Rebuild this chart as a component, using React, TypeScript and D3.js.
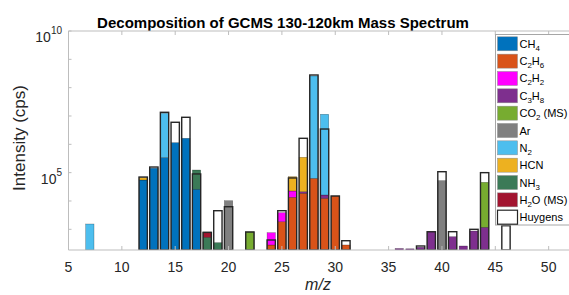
import * as d3 from "d3";

const WIDTH = 569;
const HEIGHT = 295;
const PLOT = { left: 68.5, right: 570, top: 31, bottom: 250 };
const FONT = "'Liberation Sans', Arial, sans-serif";

// m/z channels that carry a bar
const MZ = [7, 12, 13, 14, 15, 16, 17, 18, 19, 20, 22, 24, 25, 26, 27, 28, 29, 30, 31, 36, 37, 38, 39, 40, 41, 42, 43, 44, 46];

// per-species contributions (cps), aligned with MZ
const CH4 = [0, 5.5e4, 1.43e5, 3.4e5, 1.14e6, 1.63e6, 2.6e4, 0, 0, 0, 0, 0, 0, 0, 0, 0, 0, 0, 0, 0, 0, 0, 0, 0, 0, 0, 0, 0, 0];
const C2H6 = [0, 0, 0, 0, 0, 0, 0, 0, 0, 0, 0, 280, 1860, 1.35e4, 1.87e4, 6.3e4, 1.24e4, 1.5e4, 280, 0, 0, 0, 0, 0, 0, 0, 0, 0, 0];
const C2H2 = [0, 0, 0, 0, 0, 0, 0, 0, 0, 0, 0, 480, 2000, 9000, 0, 0, 0, 0, 0, 0, 0, 0, 0, 0, 0, 0, 0, 0, 0];
const C3H8 = [0, 0, 0, 0, 0, 0, 0, 0, 0, 0, 0, 0, 0, 0, 2600, 0, 3900, 0, 0, 210, 205, 232, 824, 0, 548, 258, 870, 1180, 0];
const CO2 = [0, 0, 0, 0, 0, 0, 0, 0, 0, 0, 824, 0, 0, 0, 0, 0, 0, 0, 0, 0, 0, 0, 0, 0, 0, 0, 0, 4.44e4, 0];
const AR = [0, 0, 0, 0, 0, 0, 0, 0, 0, 1.02e4, 0, 0, 0, 0, 0, 0, 0, 0, 0, 0, 0, 0, 0, 5.2e4, 0, 0, 0, 0, 0];
const N2 = [1540, 0, 0, 1.21e7, 0, 0, 0, 0, 0, 0, 0, 0, 0, 0, 0, 2.58e8, 1.15e7, 0, 0, 0, 0, 0, 0, 0, 0, 0, 0, 0, 0];
const HCN = [0, 1.13e4, 0, 0, 0, 0, 0, 0, 0, 0, 0, 0, 0, 4.95e4, 3.27e5, 0, 0, 0, 0, 0, 0, 0, 0, 0, 0, 0, 0, 0, 0];
const NH3 = [0, 0, 0, 0, 0, 0, 9.8e4, 523, 337, 0, 0, 0, 0, 0, 0, 0, 0, 0, 0, 0, 0, 0, 0, 0, 0, 0, 0, 0, 0];
const H2O = [0, 0, 0, 0, 0, 0, 0, 281, 0, 0, 0, 0, 0, 0, 0, 0, 0, 0, 0, 0, 0, 0, 0, 0, 0, 0, 0, 0, 0];
// measured Huygens spectrum, drawn as outlines
const HUYGENS = [0, 7.0e4, 1.58e5, 1.35e7, 6.0e6, 9.0e6, 9.0e4, 780, 4540, 6280, 800, 420, 4540, 6.5e4, 1.63e6, 2.8e8, 3.47e6, 1.5e4, 396, 0, 0, 258, 820, 1.08e5, 824, 0, 1000, 1.0e5, 1340];

const X_TICKS = [5, 10, 15, 20, 25, 30, 35, 40, 45, 50];
const Y_TICK_EXP = [3, 4, 5, 6, 7, 8, 9, 10];
const Y_LABEL_EXP = [5, 10];

const SPECIES = [
  { name: "CH4", color: "#0072BD", values: CH4 },
  { name: "C2H6", color: "#D95319", values: C2H6 },
  { name: "C2H2", color: "#FF00FF", values: C2H2 },
  { name: "C3H8", color: "#7E2F8E", values: C3H8 },
  { name: "CO2 (MS)", color: "#77AC30", values: CO2 },
  { name: "Ar", color: "#808080", values: AR },
  { name: "N2", color: "#4DBEEE", values: N2 },
  { name: "HCN", color: "#EDB120", values: HCN },
  { name: "NH3", color: "#3B7A57", values: NH3 },
  { name: "H2O (MS)", color: "#A2142F", values: H2O },
];

const AXIS = "#bdbdbd";
const TEXT = "#262626";

// digits become subscripts
function Chem({ label, size }: { label: string; size: number }) {
  const parts = label.split(/(\d+)/).filter((p) => p !== "");
  return (
    <>
      {parts.map((p, i) =>
        /^\d+$/.test(p) ? (
          <tspan key={i} fontSize={size * 0.72} dy={3}>
            {p}
          </tspan>
        ) : (
          <tspan key={i} dy={i > 0 && /^\d+$/.test(parts[i - 1]) ? -3 : 0}>
            {p}
          </tspan>
        )
      )}
    </>
  );
}

export default function App() {
  const yMin = Math.pow(10, 2.27);
  const x = d3.scaleLinear().domain([5, 52]).range([PLOT.left, PLOT.right]);
  const y = d3.scaleLog().domain([yMin, 1e10]).range([PLOT.bottom, PLOT.top]).clamp(true);
  const barW = x(5.78) - x(5);

  // stacked segments
  const segs: { key: string; x: number; y0: number; y1: number; color: string }[] = [];
  MZ.forEach((m, i) => {
    let acc = 0;
    SPECIES.forEach((s) => {
      const v = s.values[i];
      if (v <= 0) return;
      const lo = Math.max(acc, yMin);
      acc += v;
      if (acc <= yMin) return;
      segs.push({ key: `${m}-${s.name}`, x: x(m) - barW / 2, y0: y(lo), y1: y(acc), color: s.color });
    });
  });

  const legendTop = 43.8;
  const legendStep = 17.34;

  return (
    <svg
      width={WIDTH}
      height={HEIGHT}
      style={{ position: "absolute", left: 0, top: 0, background: "#fff", fontFamily: FONT }}>
      <defs>
        <clipPath id="plot">
          <rect x={PLOT.left} y={PLOT.top} width={PLOT.right - PLOT.left} height={PLOT.bottom - PLOT.top} />
        </clipPath>
      </defs>

      {/* title */}
      <text x={283} y={27.5} textAnchor="middle" fontSize={15} fontWeight="bold" fill="#000">
        Decomposition of GCMS 130-120km Mass Spectrum
      </text>

      {/* bars */}
      <g clipPath="url(#plot)">
        {segs.map((s) => (
          <rect
            key={s.key}
            x={s.x}
            y={s.y1}
            width={barW}
            height={Math.max(0, s.y0 - s.y1)}
            fill={s.color}
            stroke="rgba(0,0,0,0.45)"
            strokeWidth={0.5}
          />
        ))}
        {MZ.map((m, i) =>
          HUYGENS[i] > 0 ? (
            <rect
              key={`h-${m}`}
              x={x(m) - barW / 2}
              y={y(HUYGENS[i])}
              width={barW}
              height={PLOT.bottom - y(HUYGENS[i])}
              fill="none"
              stroke="#262626"
              strokeWidth={1.4}
            />
          ) : null
        )}
      </g>

      {/* axes box */}
      <line x1={PLOT.left} x2={PLOT.left} y1={PLOT.top} y2={PLOT.bottom} stroke={AXIS} />
      <line x1={PLOT.left} x2={WIDTH} y1={PLOT.bottom} y2={PLOT.bottom} stroke={AXIS} />
      <line x1={PLOT.left} x2={WIDTH} y1={PLOT.top} y2={PLOT.top} stroke={AXIS} />

      {X_TICKS.map((t) => (
        <g key={`xt-${t}`}>
          <line x1={x(t)} x2={x(t)} y1={PLOT.bottom} y2={PLOT.bottom - 4} stroke={AXIS} />
          <line x1={x(t)} x2={x(t)} y1={PLOT.top} y2={PLOT.top + 4} stroke={AXIS} />
          <text x={x(t)} y={272} textAnchor="middle" fontSize={14} fill={TEXT}>
            {t}
          </text>
        </g>
      ))}

      {Y_TICK_EXP.map((e) => (
        <line
          key={`yt-${e}`}
          x1={PLOT.left}
          x2={PLOT.left + 3}
          y1={y(Math.pow(10, e))}
          y2={y(Math.pow(10, e))}
          stroke={AXIS}
        />
      ))}
      {Y_LABEL_EXP.map((e) => (
        <text key={`yl-${e}`} x={62} y={y(Math.pow(10, e)) + 11} textAnchor="end" fontSize={14} fill={TEXT}>
          10
          <tspan fontSize={10} dy={-8}>
            {e}
          </tspan>
        </text>
      ))}

      {/* axis labels */}
      <text x={318} y={290} textAnchor="middle" fontSize={16} fontStyle="italic" fill={TEXT}>
        m/z
      </text>
      <text
        transform={`translate(25,138) rotate(-90)`}
        textAnchor="middle"
        fontSize={17}
        fill={TEXT}>
        Intensity (cps)
      </text>

      {/* legend */}
      <rect x={495.5} y={34.5} width={90} height={190.5} fill="#fff" stroke="#a6a6a6" />
      {SPECIES.map((s, i) => {
        const cy = legendTop + i * legendStep;
        return (
          <g key={`lg-${s.name}`}>
            <rect x={497.5} y={cy - 7} width={20} height={14} fill={s.color} stroke="#8c8c8c" strokeWidth={0.5} />
            <text x={519.5} y={cy + 4} fontSize={11} fill="#000">
              <Chem label={s.name} size={11} />
            </text>
          </g>
        );
      })}
      <g>
        <rect
          x={497.5}
          y={legendTop + 10 * legendStep - 7}
          width={20}
          height={14}
          fill="#fff"
          stroke="#262626"
          strokeWidth={1.2}
        />
        <text x={519.5} y={legendTop + 10 * legendStep + 4} fontSize={11} fill="#000">
          Huygens
        </text>
      </g>
    </svg>
  );
}
